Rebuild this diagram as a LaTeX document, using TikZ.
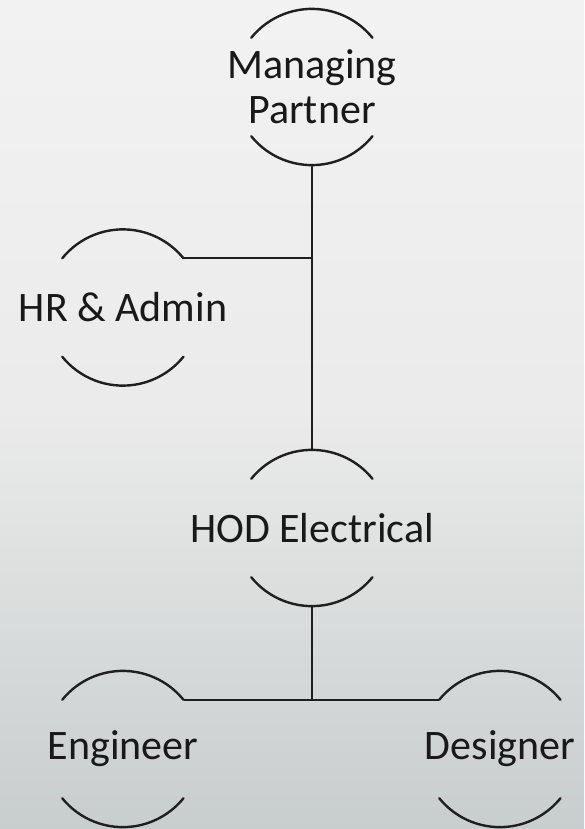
\documentclass[tikz,border=0pt]{standalone}
\usepackage{fontspec}
\setmainfont{Carlito}
\begin{document}
\begin{tikzpicture}[x=1pt,y=1pt,
  person/.style={circle,minimum size=156pt,inner sep=0pt},
  lbl/.style={align=center,font=\fontsize{42}{45}\selectfont,text=black!90,inner sep=0pt},
  arcline/.style={line width=2.4pt,draw=black!88,line cap=round},
  link/.style={line width=2.4pt,draw=black!88}]
\shade[top color=white!95!black,bottom color=black!20!white!98!cyan,middle color=black!8] (0,0) rectangle (584,-829);
\useasboundingbox (0,0) rectangle (584,-829);
\node[person,label={[lbl]center:Managing\\Partner}] (mp) at (312,-87) {};
\node[person,label={[lbl]center:HR \& Admin}] (hr) at (123,-307.5) {};
\node[person,label={[lbl]center:HOD Electrical}] (hod) at (312,-528) {};
\node[person,label={[lbl]center:Engineer}] (eng) at (123,-749) {};
\node[person,label={[lbl]center:Designer}] (des) at (500,-749) {};
\foreach \n in {mp,hr,hod,eng,des}{
  \draw[arcline] (\n.141) arc[start angle=141,end angle=39,radius=78pt];
  \draw[arcline] (\n.219) arc[start angle=219,end angle=321,radius=78pt];
}
\coordinate (j1) at (mp.south |- hr.39);
\coordinate (j2) at (hod.south |- eng.39);
\draw[link] (mp.south) -- (hod.north);
\draw[link] (hr.39) -- (j1);
\draw[link] (hod.south) -- (j2);
\draw[link] (eng.39) -- (des.141);
\end{tikzpicture}
\end{document}
